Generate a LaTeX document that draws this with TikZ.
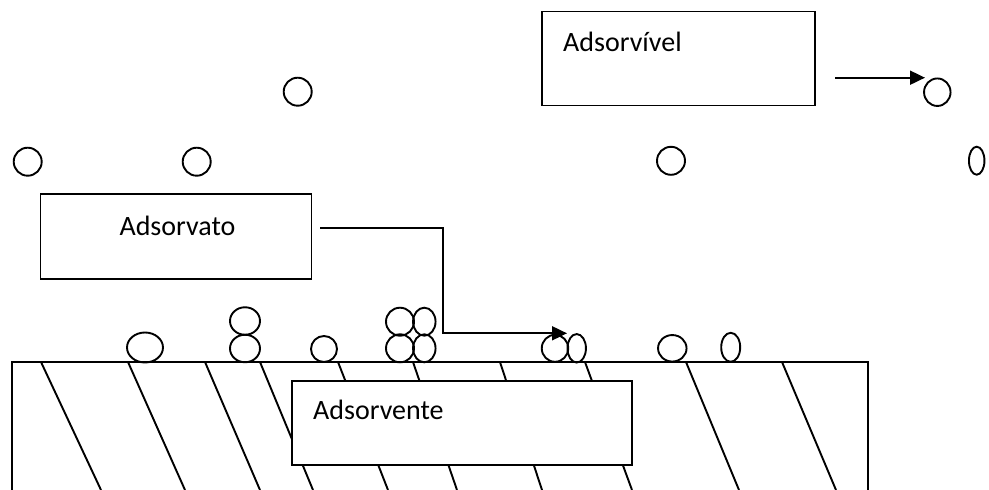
\documentclass[tikz,border=0pt]{standalone}
\usepackage{fontspec}
\setmainfont{Carlito}
\usetikzlibrary{shapes.geometric,arrows.meta}
\begin{document}
\begin{tikzpicture}[x=1pt,y=-1pt,
  ink/.style={line width=1.9pt,black},
  particle/.style={ellipse,draw,ink,inner sep=0pt},
  labelbox/.style={rectangle,draw,ink,fill=white,inner sep=0pt},
  caption/.style={inner sep=0pt,anchor=base west,font=\fontsize{28}{32}\selectfont},
  flow/.style={ink,-{Triangle[length=15pt,width=14pt]}}]
\useasboundingbox (0,0) rectangle (989,490);
\clip (0,0) rectangle (989,490);

% adsorbent solid: open block with oblique hatching
\draw[ink] (12,490) -- (12,362) -- (868,362) -- (868,490);
\foreach \a/\b in {41/101,128/185,205/260,260/313,338/388,413/457,500/542,585/632,686/739,782/836}
  \draw[ink] (\a,362) -- (\b,490);

% label boxes
\node[labelbox,minimum width=340pt,minimum height=84pt] (bAdsorvente) at (462,423) {};
\node[caption] (tAdsorvente) at (313,419) {Adsorvente};
\node[labelbox,minimum width=271pt,minimum height=85pt] (bAdsorvato) at (176,236.5) {};
\node[caption,anchor=base] (tAdsorvato) at (177.5,235) {Adsorvato};
\node[labelbox,minimum width=273pt,minimum height=94pt] (bAdsorvivel) at (678.5,58.5) {};
\node[caption] (tAdsorvivel) at (563,51.5) {Adsorvível};

% free molecules in the fluid phase
\node[particle,minimum width=28pt,minimum height=28pt] (f1) at (297.7,91.7) {};
\node[particle,minimum width=28pt,minimum height=28pt] (f2) at (27.7,161.7) {};
\node[particle,minimum width=28pt,minimum height=28pt] (f3) at (196.7,161.7) {};
\node[particle,minimum width=28pt,minimum height=28pt] (f4) at (671,160.8) {};
\node[particle,minimum width=15.5pt,minimum height=28pt] (f5) at (976.7,160.7) {};
\node[particle,minimum width=26.5pt,minimum height=27.5pt] (f6) at (937.3,92.2) {};

% molecules adsorbed on the surface
\node[particle,minimum width=36pt,minimum height=30pt] (s1) at (145,347.5) {};
\node[particle,minimum width=30pt,minimum height=27.5pt] (s2) at (245,348.5) {};
\node[particle,minimum width=30pt,minimum height=27.5pt] (s3) at (245,321) {};
\node[particle,minimum width=26pt,minimum height=26pt] (s4) at (324,349) {};
\node[particle,minimum width=28pt,minimum height=28pt] (s5) at (400,348.3) {};
\node[particle,minimum width=28pt,minimum height=28pt] (s6) at (400,321.7) {};
\node[particle,minimum width=22.5pt,minimum height=28pt] (s7) at (424.3,348.3) {};
\node[particle,minimum width=22.5pt,minimum height=28pt] (s8) at (424.3,321.7) {};
\node[particle,minimum width=26.5pt,minimum height=27pt] (s9) at (555,348.3) {};
\node[particle,minimum width=18.5pt,minimum height=28.5pt] (s10) at (576.7,348.3) {};
\node[particle,minimum width=28.5pt,minimum height=26.5pt] (s11) at (672.3,348.3) {};
\node[particle,minimum width=19pt,minimum height=29pt] (s12) at (730.7,347.3) {};

% pointers
\coordinate (pA) at (835,77.7);
\coordinate (pAend) at (925,77.7);
\draw[flow] (pA) -- (pAend);
\coordinate (pB) at (320,228);
\coordinate (pBend) at (567,333.3);
\draw[flow] (pB) -| (443,333.3) -- (pBend);
\end{tikzpicture}
\end{document}
